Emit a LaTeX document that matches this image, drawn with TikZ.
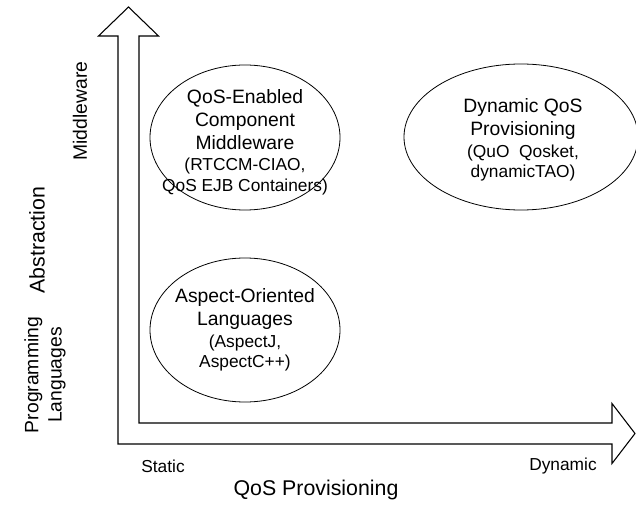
\documentclass[tikz,border=0pt]{standalone}
\usepackage{fontspec}
\setmainfont{Liberation Sans}
\usetikzlibrary{shapes.geometric}
\newcommand{\paren}[1]{{\fontsize{13}{15.75}\selectfont #1}}
\begin{document}
\begin{tikzpicture}[x=0.75pt,y=-0.75pt,
  blob/.style={draw, line width=0.6pt, ellipse, inner sep=0pt},
  blobtext/.style={align=center, inner sep=0pt, font=\fontsize{14.5}{17.25}\selectfont},
  biglabel/.style={font=\fontsize{16}{19}\selectfont},
  midlabel/.style={font=\fontsize{14.5}{17.5}\selectfont, align=center},
  ticklabel/.style={font=\fontsize{13}{15}\selectfont},
  axisarrow/.style={draw, line width=0.8pt, line join=miter}]
\useasboundingbox (0,0) rectangle (636,506);

% L-shaped block arrow
\coordinate (c0) at (118,444);
\coordinate (c1) at (118,36);
\coordinate (c2) at (98.5,36);
\coordinate (vtip) at (128.5,7);
\coordinate (c3) at (158.5,36);
\coordinate (c4) at (139,36);
\coordinate (c5) at (139,423);
\coordinate (c6) at (612,423);
\coordinate (c7) at (612,403.5);
\coordinate (htip) at (635,433.5);
\coordinate (c8) at (612,463.5);
\coordinate (c9) at (612,444);
\path[axisarrow] (c0) -- (c1) -- (c2) -- (vtip) -- (c3) -- (c4) -- (c5)
  -- (c6) -- (c7) -- (htip) -- (c8) -- (c9) -- cycle;

% ellipses
\node[blob, minimum width=190*0.75pt, minimum height=145*0.75pt] (qosmw) at (245,137.5) {};
\node[blob, minimum width=234*0.75pt, minimum height=146*0.75pt] (dynqos) at (521,137) {};
\node[blob, minimum width=190*0.75pt, minimum height=144*0.75pt] (aol) at (245,330) {};

\node[blobtext] (qosmwtext) at (245,142)
  {QoS-Enabled\\Component\\Middleware\\[-1pt]\paren{(RTCCM-CIAO,}\\[-2pt]\paren{QoS EJB Containers)}};
\node[blobtext] (dynqostext) at (523,140)
  {Dynamic QoS\\Provisioning\\[-1pt]\paren{(QuO\ \ Qosket,}\\[-2pt]\paren{dynamicTAO)}};
\node[blobtext] (aoltext) at (245,330)
  {Aspect-Oriented\\Languages\\[-1pt]\paren{(AspectJ,}\\[-2pt]\paren{AspectC++)}};

% axis labels
\node[biglabel, rotate=90] (abs) at (37,240) {Abstraction};
\node[midlabel, rotate=90] (mw) at (80,111) {Middleware};
\node[midlabel, rotate=90] (pl) at (45,375) {Programming\\Languages};
\node[ticklabel] (static) at (163,466) {Static};
\node[ticklabel] (dynamic) at (563,466) {Dynamic};
\node[biglabel] (qosp) at (316,490) {QoS Provisioning};
\end{tikzpicture}
\end{document}
